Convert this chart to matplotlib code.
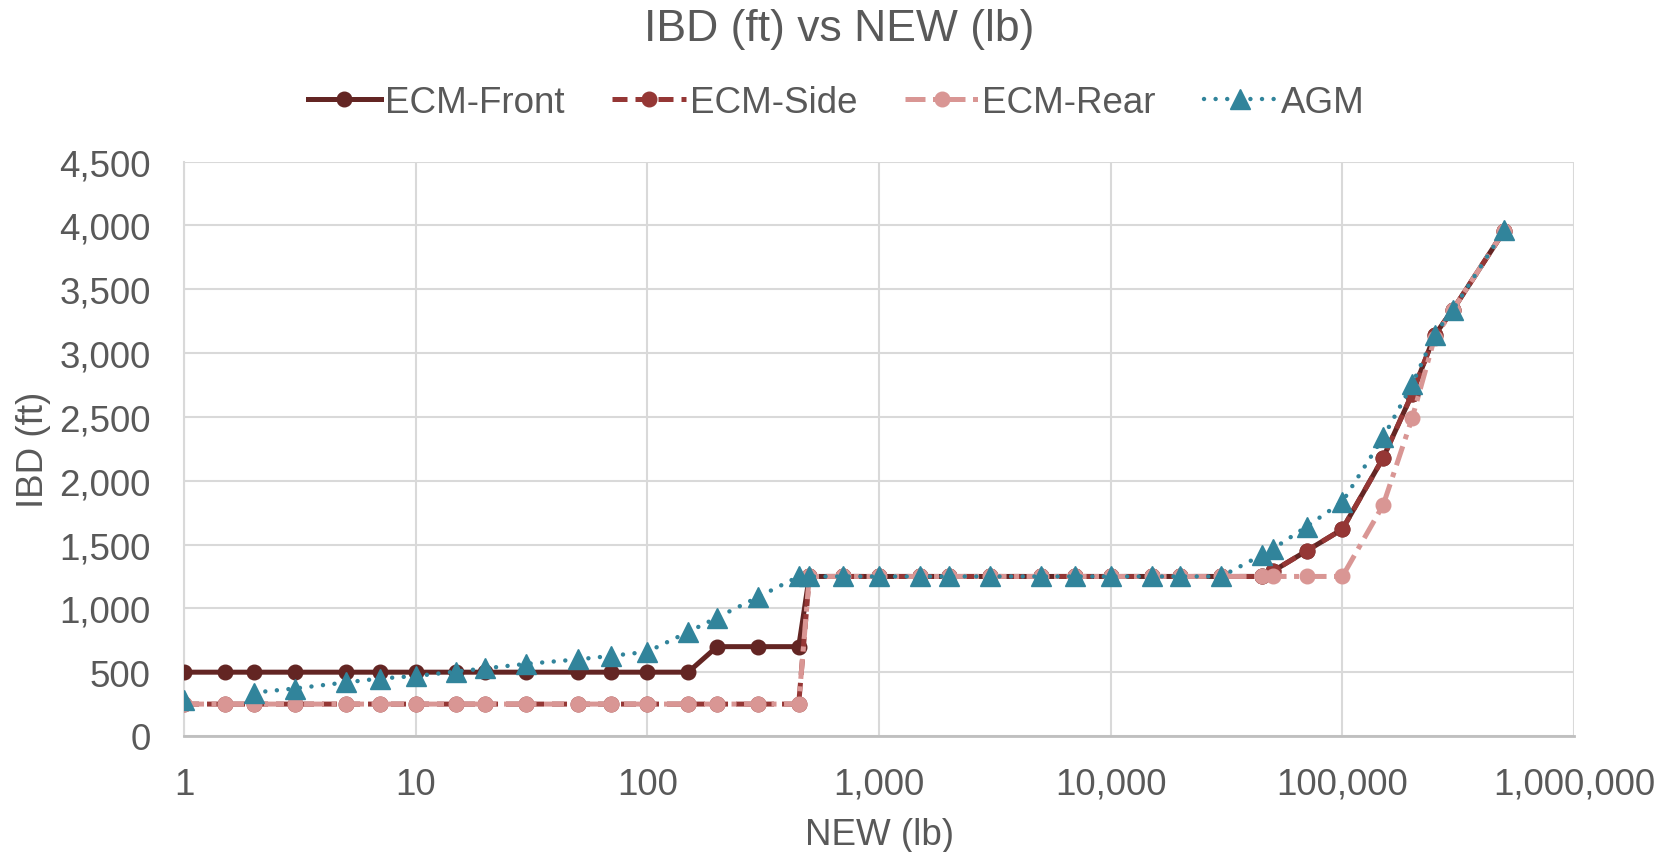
import numpy as np
import matplotlib.pyplot as plt
from matplotlib.ticker import FuncFormatter, FixedLocator, NullLocator

plt.rcParams['font.family'] = ['Liberation Sans', 'DejaVu Sans']

# NEW (lb)
new_lb = [1, 1.5, 2, 3, 5, 7, 10, 15, 20, 30, 50, 70, 100, 150, 200, 300, 450,
          500, 700, 1000, 1500, 2000, 3000, 5000, 7000, 10000, 15000, 20000, 30000,
          45000, 50000, 70000, 100000, 150000, 200000, 250000, 300000, 500000]

# IBD (ft)
ecm_front = [500] * 14 + [700, 700, 700] + [1250] * 12 + \
    [1250, 1290, 1450, 1620, 2180, 2680, 3140, 3340, 3960]
ecm_side = [250] * 17 + [1250] * 12 + \
    [1250, 1290, 1450, 1620, 2180, 2680, 3140, 3340, 3960]
ecm_rear = [250] * 17 + [1250] * 12 + \
    [1250, 1250, 1250, 1250, 1810, 2490, 3120, 3340, 3960]
agm = [285, np.nan, 340, 372, 420, 450, 470, 505, 530, 565, 600, 628, 660, 815, 928,
       1088, 1250, 1250] + [1250] * 11 + \
    [1420, 1465, 1640, 1835, 2340, 2755, 3145, 3340, 3965]

txt = '#595959'
grid = '#D9D9D9'

fig = plt.figure(figsize=(16.79, 8.53), dpi=100)
ax = fig.add_axes([0.1096, 0.136, 0.8279, 0.6733])

ax.plot(new_lb, ecm_front, color='#632523', lw=3.6, marker='o', ms=10.5,
        label='ECM-Front', zorder=3)
ax.plot(new_lb, ecm_side, color='#953735', lw=3.6, marker='o', ms=10.5,
        dashes=(3, 1.6), label='ECM-Side', zorder=4)
ax.plot(new_lb, ecm_rear, color='#D99694', lw=3.6, marker='o', ms=10.5,
        dashes=(4, 1.5, 1, 1.5), label='ECM-Rear', zorder=5)
ax.plot(new_lb, agm, color='#31849B', lw=3.2, marker='^', ms=14,
        dashes=(0.01, 2.6), dash_capstyle='round', label='AGM', zorder=6)

ax.set_xscale('log')
ax.set_xlim(1, 1e6)
ax.set_ylim(0, 4500)
ax.xaxis.set_major_locator(FixedLocator([1, 10, 100, 1e3, 1e4, 1e5, 1e6]))
ax.xaxis.set_minor_locator(NullLocator())
ax.set_yticks(np.arange(0, 4501, 500))
fmt = FuncFormatter(lambda v, p: f'{v:,.0f}')
ax.xaxis.set_major_formatter(fmt)
ax.yaxis.set_major_formatter(fmt)
ax.tick_params(length=0, labelsize=26.5, labelcolor=txt)
ax.tick_params(axis='x', pad=22)
ax.tick_params(axis='y', pad=24)

ax.grid(True, color=grid, lw=1.5)
ax.set_axisbelow(True)
for s in ['top', 'right']:
    ax.spines[s].set_visible(False)
ax.spines['left'].set_color(grid)
ax.spines['left'].set_linewidth(1.5)
ax.spines['bottom'].set_color('#BFBFBF')
ax.spines['bottom'].set_linewidth(2)

ax.set_xlabel('NEW (lb)', fontsize=26.5, color=txt, labelpad=11)
ax.set_ylabel('IBD (ft)', fontsize=26.5, color=txt, labelpad=6)
fig.suptitle('IBD (ft) vs NEW (lb)', fontsize=32, color=txt, y=0.989)

leg = fig.legend(loc='center', bbox_to_anchor=(0.498, 0.879), ncol=4,
                 frameon=False, fontsize=26.5, handlelength=2.0,
                 columnspacing=1.3, handletextpad=0.1, labelcolor=txt)

fig.savefig('out.png', dpi=100)
